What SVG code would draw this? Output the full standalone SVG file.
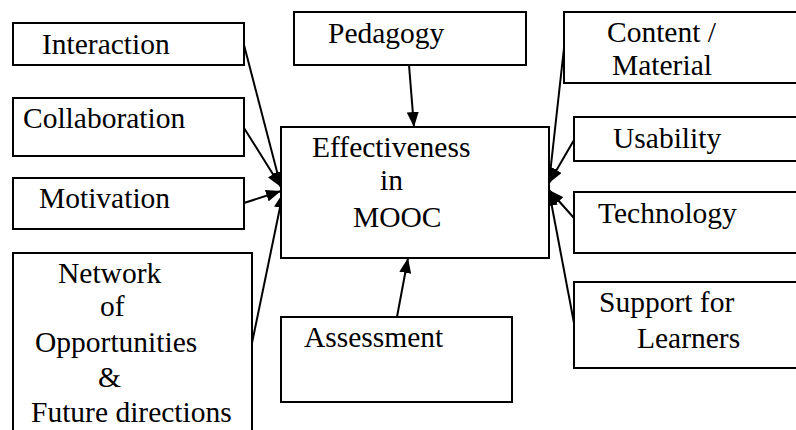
<svg xmlns="http://www.w3.org/2000/svg" width="796" height="430" viewBox="0 0 796 430">
<style>
rect{fill:#fff;stroke:#000;stroke-width:2}
text{font-family:'Liberation Serif','DejaVu Serif','Times New Roman',serif;font-size:29.5px;fill:#000}
.c line{stroke:#000;stroke-width:2;marker-end:url(#ah)}
</style>
<defs>
<marker id="ah" markerUnits="userSpaceOnUse" markerWidth="16" markerHeight="12" refX="15" refY="6" orient="auto">
<path d="M0,0 L15,6 L0,12 Z" fill="#000"/>
</marker>
</defs>
<rect x="0" y="0" width="796" height="430" style="stroke:none"/>
<g class="c">
<line x1="244" y1="45" x2="281" y2="187"/>
<line x1="244" y1="128" x2="281" y2="187"/>
<line x1="244" y1="203" x2="281" y2="191"/>
<line x1="252" y1="343" x2="283" y2="193"/>
<line x1="409" y1="65" x2="414" y2="127"/>
<line x1="397" y1="317" x2="408" y2="258"/>
<line x1="564" y1="48" x2="549" y2="183"/>
<line x1="574" y1="140" x2="549" y2="183"/>
<line x1="574" y1="218" x2="549" y2="190"/>
<line x1="574" y1="323" x2="549" y2="191"/>
</g>
<g font-family="Liberation Serif, DejaVu Serif, serif">
<g id="interaction"><rect x="13" y="23" width="231" height="42"/><text x="42" y="54">Interaction</text></g>
<g id="collaboration"><rect x="13" y="98" width="231" height="58"/><text x="23" y="128">Collaboration</text></g>
<g id="motivation"><rect x="13" y="178" width="231" height="51"/><text x="39" y="208">Motivation</text></g>
<g id="network"><rect x="13" y="253" width="239" height="185"/>
<text x="58" y="283">Network</text><text x="100" y="316">of</text><text x="35" y="352">Opportunities</text><text x="98" y="387">&amp;</text><text x="31" y="422">Future directions</text></g>
<g id="pedagogy"><rect x="294" y="12" width="232" height="53"/><text x="328" y="43">Pedagogy</text></g>
<g id="effectiveness"><rect x="281" y="127" width="268" height="131"/>
<text x="312" y="157">Effectiveness</text><text x="380" y="190">in</text><text x="353" y="227">MOOC</text></g>
<g id="assessment"><rect x="281" y="317" width="231" height="85"/><text x="304" y="347">Assessment</text></g>
<g id="content"><rect x="564" y="12" width="240" height="71"/><text x="607" y="42">Content /</text><text x="612" y="75">Material</text></g>
<g id="usability"><rect x="574" y="117" width="230" height="44"/><text x="613" y="148">Usability</text></g>
<g id="technology"><rect x="574" y="192" width="230" height="61"/><text x="598" y="223">Technology</text></g>
<g id="support"><rect x="574" y="282" width="230" height="86"/><text x="599" y="312">Support for</text><text x="637" y="348">Learners</text></g>
</g>
</svg>
